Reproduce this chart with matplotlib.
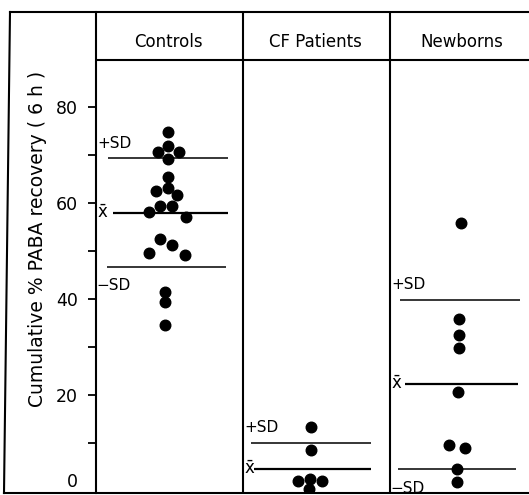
import matplotlib.pyplot as plt
from matplotlib.lines import Line2D

# ── Datos (recuperación acumulada de PABA, % a las 6 h) ─────────────────────
groups = ["Controls", "CF Patients", "Newborns"]

controls = [74.7, 71.9, 70.6, 70.6, 69.2, 65.4, 63.1, 62.4, 61.7, 59.4,
            59.4, 58.1, 57.1, 52.4, 51.3, 49.5, 49.2, 41.5, 39.4, 34.6]
cf_patients = [13.4, 8.5, 2.6, 2.1, 2.1, 0.4]
newborns = [55.9, 35.8, 32.4, 29.7, 20.6, 9.6, 8.9, 4.5, 1.9]

means = [57.9, 4.6, 22.2]
plus_sd = [69.3, 10.1, 39.8]
minus_sd = [46.7, None, 4.5]

# horizontal spread of the dots inside each column (as drawn in the original)
controls_dx = [0, 0, -0.07, 0.073, 0, 0, 0, -0.079, 0.064, -0.057,
               0.03, -0.129, 0.12, -0.057, 0.03, -0.129, 0.113, -0.018, -0.018, -0.018]
cf_dx = [-0.03, -0.03, -0.034, -0.114, 0.045, -0.041]
newborns_dx = [-0.01, -0.019, -0.019, -0.019, -0.025, -0.087, 0.022, -0.032, -0.032]

W, H = 529, 495
PX = 4.8          # pixels per unit on the y axis
COL = 147         # pixels per column


def fx(px):
    return px / W


def fy(py):
    return 1 - py / H


fig = plt.figure(figsize=(W / 100, H / 100), dpi=100)
ax = fig.add_axes([fx(96), fy(493), 1 - fx(96), fy(12) - fy(493)])
ax.set_xlim(0, (W - 96) / COL)
ax.set_ylim((491 - 493) / PX, (491 - 12) / PX)

for s in ["top", "bottom", "right"]:
    ax.spines[s].set_visible(False)
ax.spines["left"].set_linewidth(1.5)

# ── Puntos ──────────────────────────────────────────────────────────────────
series = [(controls, controls_dx), (cf_patients, cf_dx), (newborns, newborns_dx)]
for i, (vals, dx) in enumerate(series):
    xs = [i + 0.49 + d for d in dx]
    ax.plot(xs, vals, "o", color="black", markersize=7.6, zorder=3,
            markeredgecolor="black")

# ── Media y desviación estándar ─────────────────────────────────────────────
mean_span = [(0.116, 0.898), (0.075, 0.871), (0.102, 0.871)]
plus_span = [(0.082, 0.898), (0.052, 0.871), (0.068, 0.884)]
minus_span = [(0.075, 0.884), None, (0.054, 0.857)]

for i in range(3):
    ax.hlines(means[i], i + mean_span[i][0], i + mean_span[i][1],
              color="black", lw=1.6, zorder=2)
    ax.text(i + 0.006, means[i], r"$\bar{\mathrm{x}}$", fontsize=12,
            ha="left", va="center")
    ax.hlines(plus_sd[i], i + plus_span[i][0], i + plus_span[i][1],
              color="black", lw=1.1, zorder=2)
    ax.text(i + 0.006, plus_sd[i] + 3.2, "+SD", fontsize=11,
            ha="left", va="center")
    if minus_sd[i] is not None:
        ax.hlines(minus_sd[i], i + minus_span[i][0], i + minus_span[i][1],
                  color="black", lw=1.1, zorder=2)
        ax.text(i + 0.006, minus_sd[i] - 3.9, "\u2212SD", fontsize=11,
                ha="left", va="center")

# ── Cabeceras y divisiones ──────────────────────────────────────────────────
header_y = (491 - 60) / PX
ax.axhline(header_y, color="black", lw=1.5)
for i in (1, 2):
    ax.axvline(i, color="black", lw=1.5)
for i, g in enumerate(groups):
    ax.text(i + 0.49, (491 - 42) / PX, g, fontsize=12, ha="center", va="center")

# ── Eje y ───────────────────────────────────────────────────────────────────
ax.set_xticks([])
ax.set_yticks([0, 20, 40, 60, 80])
ax.set_yticks([10, 30, 50, 70], minor=True)
ax.tick_params(axis="y", which="both", direction="out", length=6, width=1.3,
               labelsize=12.5, pad=7)
ax.yaxis.get_major_ticks()[0].tick1line.set_visible(False)
ax.get_yticklabels()[0].set_va("bottom")

fig.text(fx(38), fy(239), "Cumulative % PABA recovery ( 6 h )", rotation=90,
         fontsize=13.5, ha="center", va="center")

# ── Marco exterior ──────────────────────────────────────────────────────────
for (x0, y0, x1, y1) in [(10, 12, W, 12), (4, 493, W, 493), (10, 12, 4, 493)]:
    fig.add_artist(Line2D([fx(x0), fx(x1)], [fy(y0), fy(y1)],
                          transform=fig.transFigure, color="black", lw=1.5))

fig.savefig("out.png", dpi=100)
